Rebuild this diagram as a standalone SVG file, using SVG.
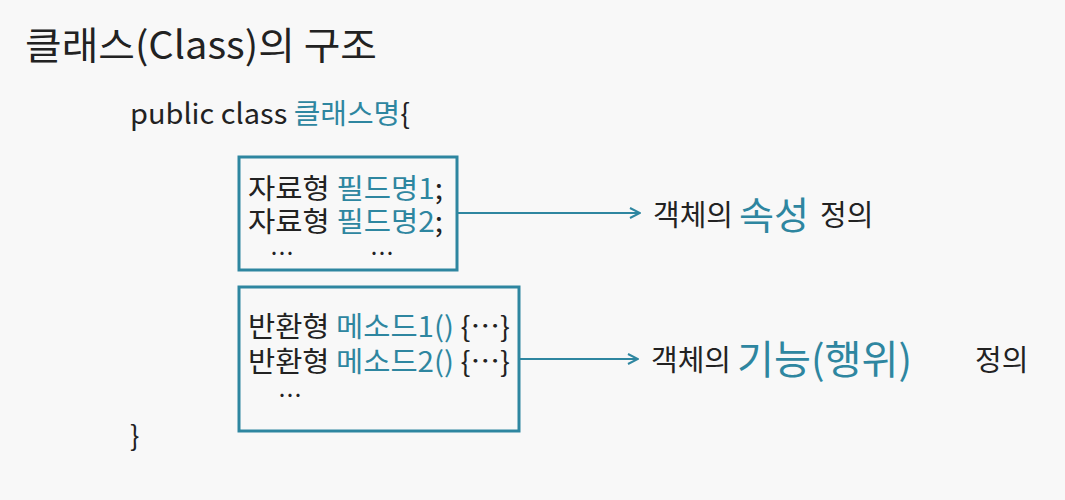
<svg xmlns="http://www.w3.org/2000/svg" width="1065" height="500" viewBox="0 0 1065 500">
<defs>
<style>
text{font-family:"Noto Sans CJK KR","Noto Sans",sans-serif;fill:#222;}
.t{fill:#2e86a0;}
.box{fill:none;stroke:#2e86a0;stroke-width:3;}
.ln{stroke:#2e86a0;stroke-width:2;fill:none;}
.m{font-size:28px;}
</style>
<marker id="ah" viewBox="0 0 12 12" refX="11" refY="6" markerWidth="12" markerHeight="12" markerUnits="userSpaceOnUse" orient="auto">
<path d="M1,1 L11,6 L1,11" fill="none" stroke="#2e86a0" stroke-width="2"/>
</marker>
</defs>
<rect width="1065" height="500" fill="#f8f8f8"/>
<g id="title"><text x="25" y="59" font-size="38" textLength="352" lengthAdjust="spacingAndGlyphs">클래스(Class)의 구조</text></g>
<g id="header"><text x="130" y="124" font-size="28" textLength="280" lengthAdjust="spacingAndGlyphs">public class <tspan class="t">클래스명</tspan>{</text></g>
<g id="fields">
<rect class="box" x="239" y="157" width="218" height="113"/>
<text class="m" x="248" y="199" textLength="195" lengthAdjust="spacingAndGlyphs">자료형 <tspan class="t">필드명1</tspan>;</text>
<text class="m" x="248" y="232" textLength="195" lengthAdjust="spacingAndGlyphs">자료형 <tspan class="t">필드명2</tspan>;</text>
<text x="270" y="262" font-size="24">…</text>
<text x="370" y="262" font-size="24">…</text>
</g>
<g id="methods">
<rect class="box" x="239" y="287" width="280" height="144"/>
<text class="m" x="248" y="337" textLength="262" lengthAdjust="spacingAndGlyphs">반환형 <tspan class="t">메소드1()</tspan> {…}</text>
<text class="m" x="248" y="372" textLength="262" lengthAdjust="spacingAndGlyphs">반환형 <tspan class="t">메소드2()</tspan> {…}</text>
<text x="278" y="404" font-size="24">…</text>
</g>
<g id="attr-label">
<text x="653" y="226" font-size="29">객체의</text>
<text class="t" x="739" y="229" font-size="38">속성</text>
<text x="820" y="226" font-size="29">정의</text>
</g>
<g id="func-label">
<text x="651" y="371" font-size="29">객체의</text>
<text class="t" x="737" y="374" font-size="40" textLength="175" lengthAdjust="spacingAndGlyphs">기능(행위)</text>
<text x="975" y="371" font-size="29">정의</text>
</g>
<g id="close"><text x="130" y="446" font-size="28">}</text></g>
<g id="connectors">
<line class="ln" x1="458" y1="213" x2="640" y2="213" marker-end="url(#ah)"/>
<line class="ln" x1="520" y1="359" x2="638" y2="359" marker-end="url(#ah)"/>
</g>
</svg>
